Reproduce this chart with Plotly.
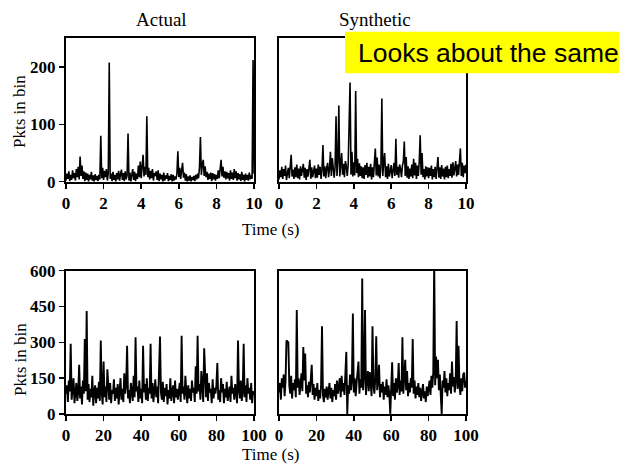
import plotly.graph_objects as go

# ---------------- data ----------------
BIN_TOP = 0.05   # s, bins in the 10 s panels
BIN_BOT = 0.5    # s, bins in the 100 s panels

actual_10s = [
    2, 14, 5, 18, 1, 12, 3, 20, 6, 15,
    2, 22, 8, 26, 4, 44, 10, 28, 5, 18,
    1, 16, 3, 14, 0, 12, 4, 17, 2, 11,
    0, 13, 3, 10, 1, 12, 4, 80, 6, 24,
    3, 19, 8, 22, 2, 16, 208, 5, 14, 1,
    17, 3, 12, 0, 15, 4, 19, 2, 13, 21,
    3, 15, 1, 18, 4, 11, 84, 2, 16, 0,
    12, 22, 3, 17, 1, 14, 5, 28, 8, 35,
    6, 30, 47, 9, 26, 12, 114, 8, 24, 4,
    19, 6, 22, 2, 15, 10, 18, 3, 20, 1,
    14, 4, 12, 0, 16, 2, 11, 5, 15, 1,
    10, 3, 13, 0, 12, 2, 9, 4, 14, 53,
    8, 24, 5, 20, 33, 7, 16, 2, 13, 0,
    9, 2, 11, 0, 8, 3, 10, 1, 12, 4,
    14, 6, 25, 78, 12, 30, 38, 10, 27, 8,
    17, 3, 14, 5, 16, 1, 15, 4, 13, 2,
    12, 5, 20, 6, 24, 38, 9, 26, 7, 18,
    4, 17, 6, 15, 2, 20, 5, 16, 3, 22,
    6, 18, 2, 15, 4, 13, 1, 17, 3, 12,
    0, 14, 3, 12, 2, 16, 4, 11, 5, 212,
    14,
]

synthetic_10s = [
    4, 20, 8, 26, 5, 22, 10, 28, 3, 19,
    24, 6, 27, 47, 9, 21, 5, 25, 8, 30,
    6, 23, 4, 27, 10, 20, 31, 7, 24, 3,
    22, 9, 26, 38, 5, 25, 8, 20, 28, 6,
    23, 7, 30, 12, 26, 5, 21, 64, 9, 27,
    6, 24, 33, 8, 22, 52, 10, 41, 28, 7,
    26, 114, 10, 35, 133, 9, 29, 50, 12, 31,
    8, 36, 27, 10, 30, 98, 173, 12, 52, 9,
    34, 11, 158, 15, 40, 8, 32, 10, 27, 6,
    25, 5, 29, 12, 33, 7, 26, 9, 31, 4,
    25, 8, 36, 58, 11, 42, 9, 30, 6, 26,
    145, 10, 35, 50, 8, 27, 5, 31, 9, 24,
    29, 6, 25, 33, 10, 75, 12, 26, 7, 30,
    22, 8, 28, 35, 70, 10, 43, 7, 27, 5,
    23, 9, 30, 6, 40, 11, 33, 5, 28, 10,
    35, 81, 12, 50, 8, 22, 4, 27, 9, 25,
    6, 24, 10, 28, 4, 22, 8, 26, 5, 30,
    43, 7, 25, 5, 29, 9, 23, 4, 26, 8,
    28, 6, 22, 10, 31, 7, 34, 11, 27, 36,
    9, 30, 12, 40, 58, 10, 33, 8, 28, 15,
    30,
]

actual_100s = [
    85, 120, 50, 140, 95, 294, 60, 110, 150, 45,
    100, 130, 55, 90, 206, 65, 115, 40, 140, 85,
    314, 95, 431, 60, 125, 50, 105, 70, 160, 35,
    95, 120, 45, 110, 65, 135, 55, 308, 90, 40,
    220, 70, 115, 50, 187, 95, 60, 130, 45, 100,
    85, 145, 55, 110, 65, 125, 40, 95, 150, 60,
    105, 50, 170, 85, 120, 286, 65, 100, 45, 130,
    90, 55, 160, 70, 321, 95, 115, 50, 140, 65,
    105, 45, 286, 90, 125, 60, 150, 55, 110, 85,
    294, 65, 130, 50, 100, 145, 70, 115, 45, 220,
    324, 90, 60, 135, 50, 110, 75, 125, 40, 100,
    65, 150, 55, 95, 120, 45, 140, 70, 105, 60,
    90, 130, 50, 328, 85, 115, 60, 160, 95, 45,
    120, 65, 105, 55, 140, 90, 110, 50, 200, 85,
    328, 95, 125, 60, 180, 100, 50, 275, 115, 70,
    170, 55, 130, 90, 105, 45, 145, 65, 110, 85,
    120, 213, 60, 100, 50, 150, 90, 125, 45, 105,
    70, 135, 55, 95, 115, 50, 160, 85, 110, 60,
    125, 90, 45, 308, 100, 65, 140, 55, 95, 294,
    70, 120, 50, 150, 85, 110, 60, 130, 45, 95,
    80,
]

synthetic_100s = [
    90, 130, 60, 150, 110, 165, 75, 140, 308, 305,
    300, 120, 85, 160, 65, 130, 100, 145, 70, 435,
    110, 150, 80, 125, 170, 95, 280, 140, 253, 85,
    120, 70, 135, 90, 155, 206, 80, 125, 60, 110,
    75, 130, 55, 100, 65, 120, 367, 80, 50, 105,
    70, 115, 60, 95, 130, 65, 110, 50, 100, 75,
    125, 60, 140, 85, 110, 150, 70, 160, 95, 130,
    80, 145, 260, 0, 120, 85, 165, 100, 140, 421,
    90, 150, 75, 130, 175, 220, 85, 145, 110, 567,
    100, 160, 435, 80, 140, 180, 95, 176, 130, 75,
    367, 120, 85, 150, 325, 100, 140, 206, 70, 125,
    90, 135, 60, 115, 80, 145, 70, 120, 85, 0,
    110, 217, 75, 130, 60, 150, 90, 120, 213, 80,
    140, 95, 321, 85, 160, 227, 100, 180, 75, 130,
    90, 150, 110, 314, 85, 140, 65, 115, 80, 130,
    70, 110, 55, 100, 125, 65, 95, 50, 115, 75,
    105, 140, 80, 160, 110, 175, 650, 120, 241, 150,
    227, 100, 165, 85, 0, 140, 110, 180, 90, 150,
    75, 130, 100, 170, 85, 220, 115, 155, 90, 140,
    389, 105, 286, 120, 80, 150, 95, 165, 173, 110,
    140,
]

col_titles = ["Actual", "Synthetic"]
x_ticks_top = [0, 2, 4, 6, 8, 10]
x_ticks_bot = [0, 20, 40, 60, 80, 100]
y_ticks_top = [0, 100, 200]
y_ticks_bot = [0, 150, 300, 450, 600]
y_label = "Pkts in bin"
x_label = "Time (s)"
note_text = "Looks about the same"

t_top = [i * BIN_TOP for i in range(len(actual_10s))]
t_bot = [i * BIN_BOT for i in range(len(actual_100s))]

# ---------------- figure ----------------
W, H = 619, 466
SERIF = "Liberation Serif, Times New Roman, serif"

fig = go.Figure()
panels = [
    (t_top, actual_10s, "x", "y", 1.6),
    (t_top, synthetic_10s, "x2", "y2", 1.6),
    (t_bot, actual_100s, "x3", "y3", 1.9),
    (t_bot, synthetic_100s, "x4", "y4", 1.9),
]
for xs, ys, xa, ya, lw in panels:
    fig.add_trace(go.Scatter(x=xs, y=ys, xaxis=xa, yaxis=ya, mode="lines",
                             line=dict(color="black", width=lw),
                             hoverinfo="skip", showlegend=False))

def px_x(p):
    return p / W

def px_y(p):
    return 1 - p / H

left_dom = [px_x(66), px_x(254)]
right_dom = [px_x(279), px_x(466)]
top_dom = [px_y(181.7), px_y(38.3)]
bot_dom = [px_y(414), px_y(270.7)]

tickfont = dict(family=SERIF, size=17, color="black", weight="bold")
common = dict(showline=True, linecolor="black", linewidth=2, mirror=True,
              showgrid=False, zeroline=False, ticks="outside", ticklen=5,
              tickwidth=1.5, tickcolor="black", tickfont=tickfont,
              automargin=False)

fig.update_layout(
    template="none",
    width=W, height=H,
    margin=dict(l=0, r=0, t=0, b=0, pad=0),
    paper_bgcolor="white", plot_bgcolor="white",
    xaxis=dict(domain=left_dom, range=[0, 10], tickvals=x_ticks_top,
               anchor="y", **common),
    yaxis=dict(domain=top_dom, range=[0, 250], tickvals=y_ticks_top,
               anchor="x", **common),
    xaxis2=dict(domain=right_dom, range=[0, 10], tickvals=x_ticks_top,
                anchor="y2", **common),
    yaxis2=dict(domain=top_dom, range=[0, 250], tickvals=y_ticks_top,
                anchor="x2", **{**common, "ticks": "", "showticklabels": False}),
    xaxis3=dict(domain=left_dom, range=[0, 100], tickvals=x_ticks_bot,
                anchor="y3", **common),
    yaxis3=dict(domain=bot_dom, range=[0, 600], tickvals=y_ticks_bot,
                anchor="x3", **common),
    xaxis4=dict(domain=right_dom, range=[0, 100], tickvals=x_ticks_bot,
                anchor="y4", **common),
    yaxis4=dict(domain=bot_dom, range=[0, 600], tickvals=y_ticks_bot,
                anchor="x4", **{**common, "ticks": "", "showticklabels": False}),
)

ann = [
    dict(text=col_titles[0], x=px_x(161), y=px_y(19), size=19),
    dict(text=col_titles[1], x=px_x(375), y=px_y(19), size=19),
    dict(text=x_label, x=px_x(270), y=px_y(229), size=17),
    dict(text=x_label, x=px_x(270), y=px_y(454), size=17),
    dict(text=y_label, x=px_x(20), y=px_y(112), size=17, textangle=-90),
    dict(text=y_label, x=px_x(20), y=px_y(360), size=17, textangle=-90),
]
for a in ann:
    size = a.pop("size")
    fig.add_annotation(xref="paper", yref="paper", showarrow=False,
                       xanchor="center", yanchor="middle",
                       font=dict(family=SERIF, size=size, color="black"), **a)

# yellow call-out box
fig.add_shape(type="rect", xref="paper", yref="paper",
              x0=px_x(345), x1=1.0, y0=px_y(73.3), y1=px_y(31.7),
              fillcolor="#ffff00", line=dict(width=0), layer="above")
fig.add_annotation(xref="paper", yref="paper", showarrow=False,
                   text=note_text, x=px_x(356), y=px_y(53),
                   xanchor="left", yanchor="middle",
                   font=dict(family="Liberation Sans, Arial, sans-serif",
                             size=26.5, color="black"))

fig.write_html(
    "out.html",
    config={"displayModeBar": False, "staticPlot": True},
    post_script="document.body.style.margin='0';document.body.style.overflow='hidden';",
)
